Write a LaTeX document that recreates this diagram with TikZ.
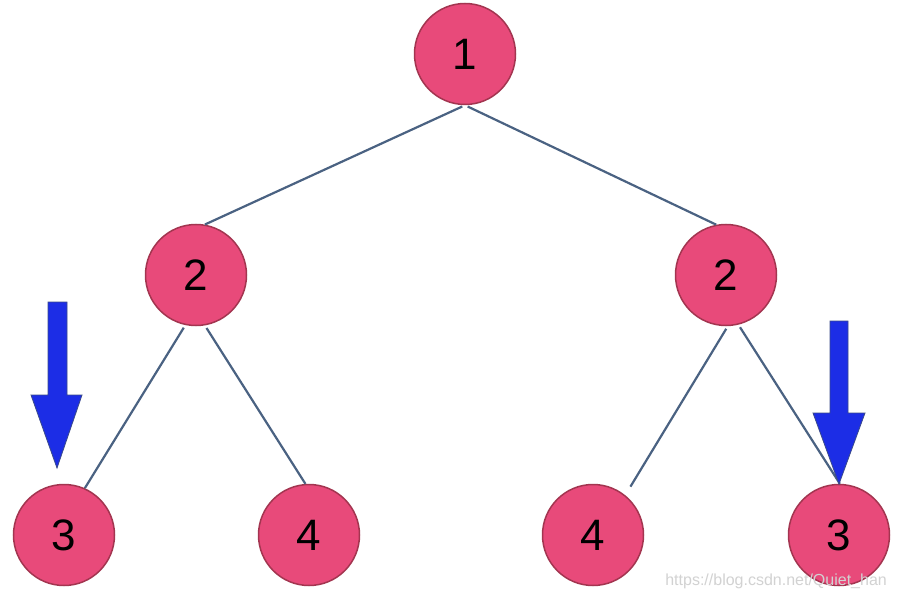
\documentclass[tikz,border=0pt]{standalone}
\usepackage{fontspec}
\setmainfont{Liberation Sans}
\definecolor{nodefill}{HTML}{E84A7A}
\definecolor{nodeborder}{HTML}{A33550}
\definecolor{edgecol}{HTML}{4A6282}
\definecolor{arrowblue}{HTML}{1C2DE6}
\definecolor{arrowedge}{HTML}{3A4A8A}
\definecolor{wmark}{HTML}{D2D2D2}
\begin{document}
\begin{tikzpicture}[x=1pt,y=-1pt,
  treenode/.style={circle,draw=nodeborder,line width=1.5pt,fill=nodefill,minimum size=101pt,inner sep=0pt,font=\fontsize{44}{50}\selectfont},
  edge/.style={draw=edgecol,line width=2.2pt,shorten <=3pt},
  bigarrow/.style={fill=arrowblue,draw=arrowedge,line width=0.8pt,line join=miter}]
\useasboundingbox (0,0) rectangle (897,596);
\fill[white] (0,0) rectangle (897,596);
% edges first
\node[treenode] (n1) at (465,54) {1};
\node[treenode] (n2l) at (196,275) {2};
\node[treenode] (n2r) at (726,275) {2};
\node[treenode] (n3l) at (64,535) {3};
\node[treenode] (n4l) at (309,535) {4};
\node[treenode] (n4r) at (593,535) {4};
\node[treenode] (n3r) at (839,535) {3};
\draw[edge] (n1.south) -- (n2l.80);
\draw[edge] (n1.south) -- (n2r.101);
\draw[edge] (n2l.-102) -- (n3l.66);
\draw[edge] (n2l.-80) -- (n4l.94);
\draw[edge,shorten >=10pt] (n2r.-88) -- (n4r.51);
\draw[edge] (n2r.-76) -- (n3r.89);
% blue arrows
\draw[bigarrow] (48,302) -- (67,302) -- (67,395) -- (82,395) -- (57,468) -- (31,395) -- (48,395) -- cycle;
\draw[bigarrow] (830,321) -- (848,321) -- (848,413) -- (865,413) -- (839,484) -- (813,413) -- (830,413) -- cycle;
% watermark
\node[text=wmark,font=\fontsize{16}{18}\selectfont,anchor=base east,inner sep=0pt] (wm) at (887,585) {https://blog.csdn.net/Quiet\_han};
\end{tikzpicture}
\end{document}
